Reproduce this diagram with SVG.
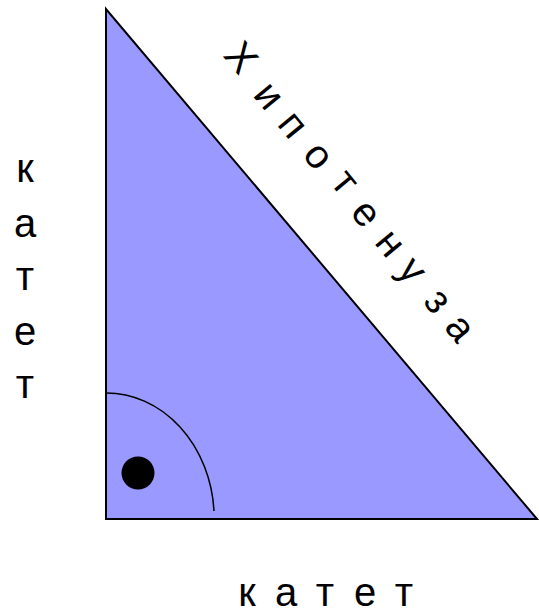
<svg xmlns="http://www.w3.org/2000/svg" width="539" height="616" viewBox="0 0 539 616">
  <style>
    .lbl { font-family: "Liberation Sans", Arial, sans-serif; font-size: 40px; fill: #000; }
    .mid { text-anchor: middle; }
  </style>
  <rect width="539" height="616" fill="#fff"/>
  <g id="triangle">
    <polygon points="106,9 106,519 537,519" fill="#9999FF" stroke="#000" stroke-width="2" stroke-linejoin="miter"/>
  </g>
  <g id="angle-mark">
    <path d="M106,393 A108,126 0 0 1 214,511" fill="none" stroke="#000" stroke-width="1.5"/>
    <circle cx="138" cy="473" r="16.5" fill="#000"/>
  </g>
  <g id="hypotenuse-label">
    <text class="lbl" x="222.2" y="55.7" rotate="50.5">Х</text>
    <text class="lbl" x="252.1" y="95.2" rotate="50.5">и</text>
    <text class="lbl" x="276.3" y="124.5" rotate="50.5">п</text>
    <text class="lbl" x="301.5" y="155.2" rotate="50.5">о</text>
    <text class="lbl" x="329.6" y="183.1" rotate="50.5">т</text>
    <text class="lbl" x="349.2" y="213.1" rotate="50.5">е</text>
    <text class="lbl" x="373.6" y="242.7" rotate="50.5">н</text>
    <text class="lbl" x="396.3" y="270.4" rotate="50.5">у</text>
    <text class="lbl" x="422.3" y="301.9" rotate="50.5">з</text>
    <text class="lbl" x="443.3" y="327.4" rotate="50.5">а</text>
  </g>
  <g id="left-leg-label">
    <text class="lbl mid" x="25" y="182">к</text>
    <text class="lbl mid" x="25" y="237">а</text>
    <text class="lbl mid" x="25" y="290">т</text>
    <text class="lbl mid" x="25" y="345">е</text>
    <text class="lbl mid" x="25" y="398">т</text>
  </g>
  <g id="bottom-leg-label">
    <text class="lbl mid" y="606" x="247 286 325 365 404">катет</text>
  </g>
</svg>
